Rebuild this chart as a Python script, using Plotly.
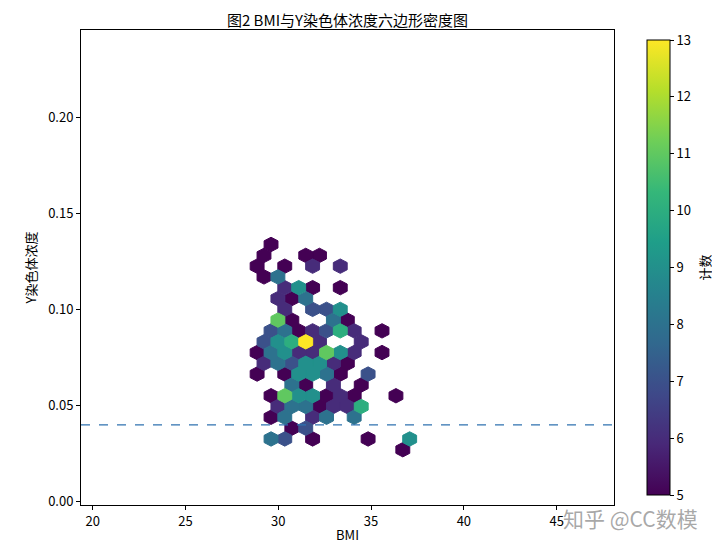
import plotly.graph_objects as go
from plotly.colors import sample_colorscale

# ---- data: hexbin cell centres (BMI, Y concentration) and counts (mincnt=5) ----
hex_bmi = [
    29.61,
    29.23, 31.48, 32.22,
    28.86, 30.35, 31.85, 33.34,
    29.23, 29.98,
    30.35, 31.10, 31.85, 33.34,
    29.98, 30.73, 31.48,
    30.35, 31.85, 32.60, 33.34,
    29.98, 30.73, 32.97, 33.72,
    29.61, 30.35, 31.10, 31.85, 32.60, 33.34, 34.09, 35.59,
    29.23, 29.98, 30.73, 31.48, 32.22, 34.47,
    28.86, 29.61, 30.35, 31.10, 31.85, 32.60, 33.34, 34.09, 35.59,
    29.23, 29.98, 30.73, 31.48, 32.22, 32.97, 33.72,
    28.86, 30.35, 31.10, 31.85, 32.60, 33.34, 34.84,
    30.73, 31.48, 32.97, 34.47,
    29.61, 30.35, 31.10, 31.85, 32.60, 33.34, 34.09, 36.34,
    29.98, 30.73, 31.48, 32.22, 32.97, 33.72, 34.47,
    29.61, 30.35, 31.85, 32.60, 34.09,
    30.73, 31.48,
    29.61, 30.35, 31.85, 34.84, 37.08,
    36.71,
]
hex_y = (
    [0.1340] * 1 + [0.1283] * 3 + [0.1227] * 4 + [0.1171] * 2 + [0.1115] * 4
    + [0.1058] * 3 + [0.1002] * 4 + [0.0946] * 4 + [0.0890] * 8 + [0.0833] * 6
    + [0.0777] * 9 + [0.0721] * 7 + [0.0665] * 7 + [0.0608] * 4 + [0.0552] * 8
    + [0.0496] * 7 + [0.0440] * 5 + [0.0383] * 2 + [0.0327] * 5 + [0.0271] * 1
)
hex_count = [
    5,
    5, 5, 5,
    5, 5, 6, 6,
    5, 8,
    6, 9, 5, 5,
    6, 5, 8,
    6, 7, 7, 9,
    11, 5, 8, 5,
    7, 8, 5, 6, 7, 10, 6, 5,
    7, 9, 10, 13, 6, 6,
    5, 8, 9, 6, 6, 11, 9, 6, 5,
    6, 8, 7, 9, 9, 6, 5,
    5, 5, 9, 9, 8, 5, 7,
    8, 5, 6, 5,
    5, 11, 9, 9, 5, 6, 5, 5,
    6, 8, 8, 5, 6, 6, 10,
    5, 8, 6, 8, 8,
    5, 7,
    8, 7, 5, 5, 9,
    5,
]
threshold = 0.04
x_ticks = [20, 25, 30, 35, 40, 45]
y_ticks = [0.00, 0.05, 0.10, 0.15, 0.20]
cbar_ticks = [5, 6, 7, 8, 9, 10, 11, 12, 13]

# ---- hexbin geometry (grid cell size in data units) ----
CELL_W = 0.748
CELL_H = 0.01125
CMIN, CMAX = 5, 13
hex_shape = [(0.5, -1 / 6), (0.5, 1 / 6), (0.0, 1 / 3), (-0.5, 1 / 6),
             (-0.5, -1 / 6), (0.0, -1 / 3), (0.5, -1 / 6)]

FONT = "Noto Sans CJK SC, Noto Sans, DejaVu Sans"

fig = go.Figure()

for cnt in sorted(set(hex_count)):
    xs, ys = [], []
    for bx, by, c in zip(hex_bmi, hex_y, hex_count):
        if c != cnt:
            continue
        for ox, oy in hex_shape:
            xs.append(bx + ox * CELL_W)
            ys.append(by + oy * CELL_H)
        xs.append(None)
        ys.append(None)
    col = sample_colorscale("Viridis", [(cnt - CMIN) / (CMAX - CMIN)])[0]
    fig.add_trace(go.Scatter(
        x=xs, y=ys, mode="lines", fill="toself", fillcolor=col,
        line=dict(color=col, width=1), hoverinfo="skip", showlegend=False,
    ))

# colour scale carrier
fig.add_trace(go.Scatter(
    x=hex_bmi, y=hex_y, mode="markers", showlegend=False, hoverinfo="skip",
    marker=dict(
        color=hex_count, colorscale="Viridis", cmin=CMIN, cmax=CMAX, size=1, opacity=0,
        showscale=True,
        colorbar=dict(
            x=1.043, xanchor="left", y=0.5, yanchor="middle", len=1.0, lenmode="fraction",
            thickness=23, outlinecolor="black", outlinewidth=1,
            tickvals=cbar_ticks, ticks="outside", ticklen=4, tickcolor="black",
            tickfont=dict(family=FONT, size=13, color="black"),
        ),
    ),
))

# colour bar label
fig.add_annotation(
    text="计数", xref="paper", yref="paper", x=1.1707, y=0.5, textangle=-90,
    xanchor="center", yanchor="middle", showarrow=False,
    font=dict(family=FONT, size=13, color="black"),
)

# threshold line
fig.add_hline(y=threshold, line=dict(color="#2f72b0", width=1.2, dash="dash"))

fig.update_xaxes(
    range=[19.37, 48.09], tickvals=x_ticks, ticks="outside", ticklen=4, tickcolor="black",
    showline=True, linecolor="black", linewidth=1, mirror=True, showgrid=False, zeroline=False,
    tickfont=dict(family=FONT, size=13, color="black"),
    title=dict(text="BMI", font=dict(family=FONT, size=13, color="black"), standoff=4),
)
fig.update_yaxes(
    range=[-0.0017, 0.2457], tickvals=y_ticks, tickformat=".2f", ticks="outside", ticklen=4,
    tickcolor="black", showline=True, linecolor="black", linewidth=1, mirror=True,
    showgrid=False, zeroline=False,
    tickfont=dict(family=FONT, size=13, color="black"),
    title=dict(text="Y染色体浓度", font=dict(family=FONT, size=13, color="black"), standoff=8),
)

fig.add_annotation(
    text="知乎 @CC数模", xref="paper", yref="paper", x=1.161, y=-0.027,
    xanchor="right", yanchor="middle", showarrow=False,
    font=dict(family=FONT, size=21, color="rgba(140,140,140,0.75)"),
)

# page has an 8px body margin, so the figure is 712x536 and offsets are reduced by 8
fig.update_layout(
    width=712, height=536,
    margin=dict(l=73, r=106, t=22, b=39, autoexpand=False),
    paper_bgcolor="white", plot_bgcolor="white",
    title=dict(text="图2 BMI与Y染色体浓度六边形密度图", x=0.4768, xanchor="center",
               y=0.977, yanchor="middle", font=dict(family=FONT, size=15, color="black")),
)

fig.write_html("out.html")
